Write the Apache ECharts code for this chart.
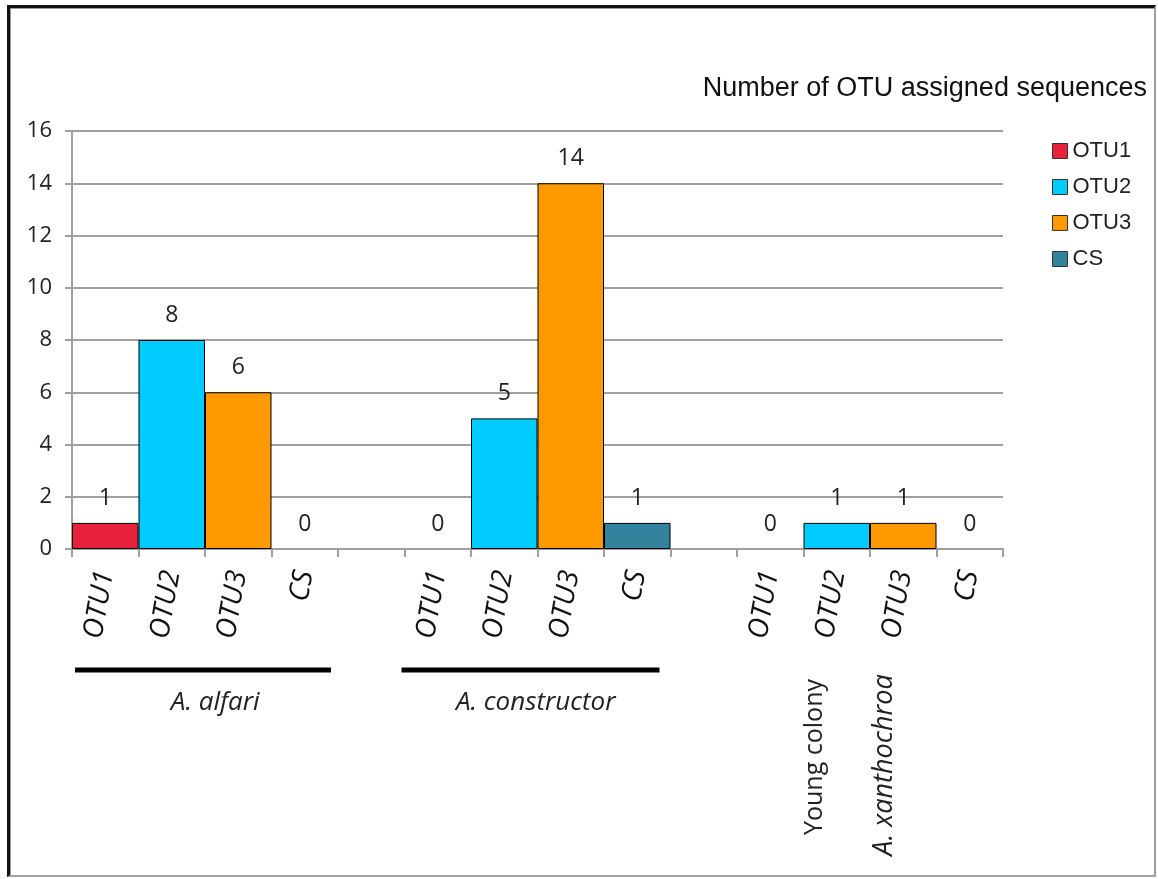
<!DOCTYPE html>
<html><head><meta charset="utf-8">
<script src="https://cdn.jsdelivr.net/npm/echarts@6/dist/echarts.min.js"></script>
<style>
html,body{margin:0;padding:0;background:#fff;}
#c{width:1158px;height:879px;position:absolute;left:0;top:0;}
#frame{position:absolute;left:7px;top:5px;width:1149px;height:872px;border-left:3px solid #111;border-top:3px solid #111;border-right:2px solid #a0a0a0;border-bottom:2px solid #a0a0a0;box-sizing:border-box;pointer-events:none;}
#frame2{position:absolute;left:10px;top:8px;width:1px;height:869px;background:#999;pointer-events:none;}
#frame3{position:absolute;left:10px;top:8px;width:1146px;height:1px;background:#999;pointer-events:none;}
</style></head>
<body>
<div id="c"></div>
<div id="frame"></div><div id="frame2"></div><div id="frame3"></div>
<script>
var categories = ['OTU1','OTU2','OTU3','CS','', 'OTU1','OTU2','OTU3','CS','', 'OTU1','OTU2','OTU3','CS'];
var seriesNames = ['OTU1','OTU2','OTU3','CS'];
var otu1 = [1,'-','-','-','-', 0,'-','-','-','-', 0,'-','-','-'];
var otu2 = ['-',8,'-','-','-', '-',5,'-','-','-', '-',1,'-','-'];
var otu3 = ['-','-',6,'-','-', '-','-',14,'-','-', '-','-',1,'-'];
var cs   = ['-','-','-',0,'-', '-','-','-',1,'-', '-','-','-',0];
var colors = ['#E8223A','#00CCFF','#FF9900','#31849B'];
var groupLabels = ['A. alfari','A. constructor'];
var thirdLabels = ['Young colony','A. xanthochroa'];

var chart = echarts.init(document.getElementById('c'));
function mk(arr){
  return arr.map(function(v){
    if (v === 0) return {value:0, itemStyle:{borderWidth:0}};
    return v;
  });
}
var labelFont = 'Open Sans';
var valuesList = [otu1, otu2, otu3, cs];
var series = seriesNames.map(function(n,i){
  return {
    name:n, type:'bar', stack:'s', barWidth:'100%',
    data: mk(valuesList[i]),
    itemStyle:{color:colors[i], borderColor:'#000', borderWidth:1},
    label:{show:true, position:'top', distance:13, color:'#222', fontFamily:labelFont, fontSize:23,
      formatter:function(p){return p.value;}}
  };
});
chart.setOption({
  animation:false,
  backgroundColor:'#fff',
  title:{text:'Number of OTU assigned sequences', right:6, top:70,
    textStyle:{fontFamily:'Liberation Sans', fontWeight:'normal', fontSize:27, color:'#111'}},
  legend:{orient:'vertical', left:1047, top:135, itemWidth:15, itemHeight:15, itemGap:14,
    icon:'rect',
    textStyle:{fontFamily:'Liberation Sans', fontSize:22, color:'#222'},
    itemStyle:{borderColor:'#333', borderWidth:1},
    data:seriesNames},
  grid:{left:72, right:155, top:131, bottom:330, containLabel:false},
  xAxis:{type:'category', data:categories,
    axisLine:{lineStyle:{color:'#a0a0a0', width:2}},
    axisTick:{show:true, length:8, lineStyle:{color:'#a0a0a0', width:2}},
    axisLabel:{rotate:80, interval:0, margin:22, fontStyle:'italic', fontFamily:labelFont, fontSize:28, color:'#111'},
    splitLine:{show:false}},
  yAxis:{type:'value', min:0, max:16, interval:2,
    axisLine:{show:true, lineStyle:{color:'#a0a0a0', width:2}},
    axisTick:{show:true, length:7, lineStyle:{color:'#a0a0a0', width:2}},
    axisLabel:{margin:20, fontFamily:labelFont, fontSize:22, color:'#222'},
    splitLine:{lineStyle:{color:'#a0a0a0', width:2}}},
  series:series
});

var xs = [];
for (var i=0;i<categories.length;i++){ xs.push(chart.convertToPixel({xAxisIndex:0}, i)); }
var w = xs[1]-xs[0];
var lineY = 670;
var g = [];
g.push({type:'line', shape:{x1:xs[0]-w/2+3,y1:lineY,x2:xs[3]+w/2-7,y2:lineY}, style:{stroke:'#000', lineWidth:5}});
g.push({type:'line', shape:{x1:xs[5]-w/2-3,y1:lineY,x2:xs[8]+w/2-11,y2:lineY}, style:{stroke:'#000', lineWidth:5}});
g.push({type:'text', x:xs[2]-23, y:703, style:{text:groupLabels[0], fill:'#222', font:'italic 26px "Open Sans"', align:'center', verticalAlign:'middle'}});
g.push({type:'text', x:xs[7]-35, y:703, style:{text:groupLabels[1], fill:'#222', font:'italic 26px "Open Sans"', align:'center', verticalAlign:'middle'}});
g.push({type:'text', x:xs[11]-22, y:757, rotation:Math.PI/2,
  style:{text:thirdLabels[0], fill:'#222', font:'25px "Open Sans"', align:'center', verticalAlign:'middle'}});
g.push({type:'text', x:xs[12]-19, y:765, rotation:Math.PI/2,
  style:{text:thirdLabels[1], fill:'#222', font:'italic 27px "Open Sans"', align:'center', verticalAlign:'middle'}});
chart.setOption({graphic:g});
</script>
</body></html>
